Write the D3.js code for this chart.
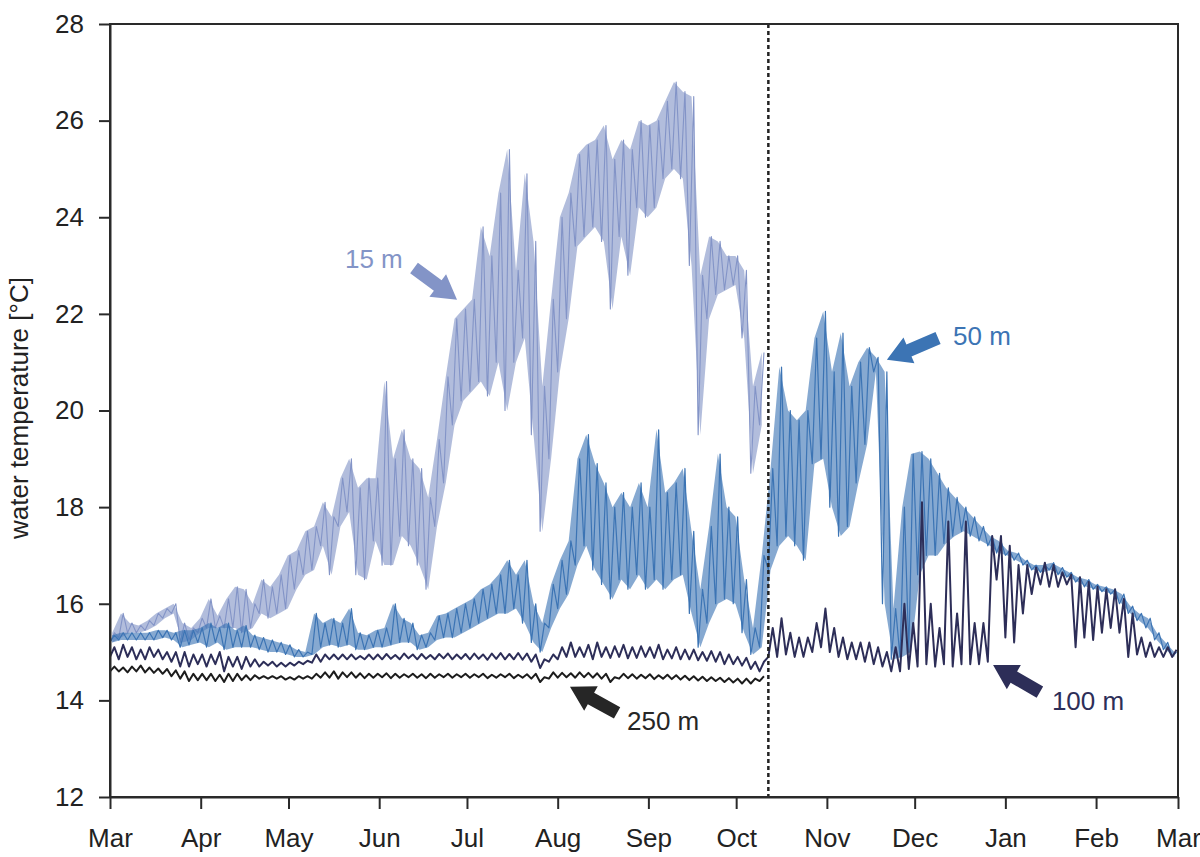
<!DOCTYPE html>
<html>
<head>
<meta charset="utf-8">
<script src="https://cdn.jsdelivr.net/npm/d3@7"></script>
<style>
    body { margin: 0; background: #fff; }
    svg { font-family: "Liberation Sans", Arial, sans-serif; }
</style>
</head>
<body>
<svg width="1200" height="857"></svg>
<script>
// Mooring temperature record, Mar -> Mar. Each series is read off the plot in
// 3 day bins as [lowest, highest] value inside the bin.
var startDate = Date.UTC(2010, 2, 1),
    endDate = Date.UTC(2011, 2, 1),
    binDays = 3,
    cutDate = Date.UTC(2010, 9, 12); // dashed line, 15 m and 250 m loggers stop here

var yTicks = [12, 14, 16, 18, 20, 22, 24, 26, 28];

var t15lo = [15.2, 15.3, 15.4, 15.4, 15.45, 15.55, 15.7, 15.8, 15.2, 15.25,
    15.4, 15.5, 15.5, 15.5, 15.5, 15.4, 15.5, 15.8, 15.7, 15.8,
    15.9, 16.3, 16.6, 16.7, 17.2, 16.6, 17.6, 17.9, 16.6, 16.5,
    17.3, 16.8, 16.8, 17.4, 17.2, 16.8, 16.3, 17.6, 18.5, 19.7,
    20.2, 20.4, 20.6, 20.3, 21.0, 20.0, 21.0, 21.5, 19.5, 17.5,
    19.0, 20.8, 21.9, 23.4, 23.6, 23.8, 23.5, 22.1, 23.6, 22.8,
    24.2, 24.0, 24.2, 24.8, 25.0, 24.8, 23.0, 19.5, 21.9, 22.4,
    22.5, 22.6, 21.5, 18.7, 19.7];
var t15hi = [15.4, 15.8, 15.6, 15.55, 15.65, 15.8, 15.9, 16.0, 15.6, 15.5,
    15.7, 16.1, 15.75, 16.1, 16.35, 16.3, 16.0, 16.5, 16.35, 16.6,
    17.0, 17.1, 17.5, 17.6, 18.1, 17.8, 18.6, 19.0, 18.4, 18.6,
    18.6, 20.6, 19.0, 19.6, 19.0, 18.8, 18.2, 19.4, 20.7, 21.9,
    22.1, 22.3, 23.8, 23.2, 24.5, 25.4, 22.9, 24.9, 23.5, 20.5,
    22.3, 24.0, 24.5, 25.3, 25.5, 25.6, 25.9, 25.2, 25.6, 25.4,
    26.0, 25.9, 26.0, 26.4, 26.8, 26.6, 26.5, 22.8, 23.6, 23.5,
    23.2, 23.2, 22.9, 20.5, 21.2];

var t50lo = [15.2, 15.25, 15.25, 15.25, 15.25, 15.25, 15.3, 15.25, 15.1, 15.15,
    15.2, 15.1, 15.2, 15.05, 15.1, 15.1, 15.1, 15.05, 15.0, 15.0,
    14.95, 14.9, 14.9, 14.95, 15.1, 15.15, 15.1, 15.15, 15.05, 15.05,
    15.1, 15.1, 15.15, 15.2, 15.2, 15.05, 15.1, 15.25, 15.3, 15.3,
    15.4, 15.5, 15.6, 15.7, 15.8, 15.8, 15.9, 15.6, 15.2, 15.0,
    15.5, 15.9, 16.2, 16.8, 17.2, 16.7, 16.4, 16.1, 16.5, 16.3,
    16.6, 16.3, 16.5, 16.3, 16.5, 16.6, 15.8, 15.1, 15.6, 16.0,
    16.1, 16.0, 15.4, 14.95, 15.1, 16.7, 17.2, 17.4, 17.2, 16.9,
    18.9, 19.0, 18.0, 17.4, 17.6, 18.5, 19.3, 20.8, 16.0, 14.85,
    14.9, 15.0, 16.6, 17.0, 17.0, 17.25, 17.4, 17.5, 17.4, 17.3,
    17.2, 17.05, 17.0, 16.9, 16.8, 16.7, 16.65, 16.7, 16.6, 16.55,
    16.45, 16.35, 16.3, 16.25, 16.2, 16.0, 15.8, 15.65, 15.5, 15.25,
    15.05, 14.9];
var t50hi = [15.35, 15.4, 15.4, 15.4, 15.4, 15.45, 15.45, 15.4, 15.45, 15.45,
    15.5, 15.6, 15.5, 15.6, 15.45, 15.55, 15.35, 15.3, 15.25, 15.2,
    15.15, 15.05, 15.0, 15.8, 15.6, 15.7, 15.6, 15.9, 15.4, 15.35,
    15.45, 15.5, 16.0, 15.7, 15.6, 15.35, 15.4, 15.75, 15.8, 15.9,
    16.0, 16.1, 16.3, 16.4, 16.6, 16.9, 16.6, 16.9, 16.0, 15.6,
    16.4, 16.9, 17.3, 19.0, 19.5, 18.9, 18.5, 18.0, 18.3, 18.0,
    18.5, 18.0, 19.6, 18.3, 18.5, 18.8, 17.5, 16.3, 17.6, 19.1,
    18.0, 17.8, 16.5, 15.5, 17.0, 18.8, 20.9, 20.0, 19.8, 20.0,
    21.5, 22.05, 20.8, 21.6, 20.5, 21.0, 21.3, 21.1, 20.8, 15.9,
    18.0, 19.1, 19.15, 19.0, 18.7, 18.4, 18.2, 18.0, 17.8, 17.6,
    17.4, 17.3, 17.1, 17.05, 16.9, 16.8, 16.8, 16.85, 16.75, 16.65,
    16.55, 16.5, 16.4, 16.35, 16.3, 16.2, 15.95, 15.8, 15.7, 15.4,
    15.2, 15.0];

var t100lo = [14.9, 14.85, 14.9, 14.85, 14.85, 14.9, 14.85, 14.8, 14.7, 14.7,
    14.75, 14.7, 14.75, 14.6, 14.7, 14.65, 14.7, 14.7, 14.72, 14.7,
    14.7, 14.72, 14.75, 14.78, 14.8, 14.85, 14.85, 14.85, 14.85, 14.85,
    14.85, 14.85, 14.86, 14.85, 14.87, 14.85, 14.86, 14.85, 14.87, 14.85,
    14.86, 14.85, 14.86, 14.84, 14.86, 14.85, 14.85, 14.84, 14.8, 14.67,
    14.8, 14.85, 14.9, 14.9, 14.9, 14.85, 14.9, 14.88, 14.9, 14.87,
    14.88, 14.9, 14.88, 14.85, 14.87, 14.85, 14.85, 14.83, 14.82, 14.8,
    14.75, 14.75, 14.72, 14.65, 14.6, 14.9, 14.9, 14.95, 14.9, 14.9,
    15.0, 15.1, 15.0, 14.9, 14.85, 14.85, 14.8, 14.75, 14.7, 14.6,
    14.6, 14.65, 14.7, 14.75, 14.7, 14.75, 14.7, 14.75, 14.75, 14.75,
    14.8, 16.5, 15.3, 15.2, 15.8, 16.2, 16.4, 16.35, 16.35, 16.4,
    15.1, 15.3, 15.25, 15.4, 15.5, 15.4, 14.9, 14.95, 14.9, 14.9,
    14.9, 14.9];
var t100hi = [15.1, 15.15, 15.1, 15.05, 15.1, 15.05, 15.0, 15.0, 15.0, 14.95,
    14.95, 14.95, 15.0, 14.9, 14.9, 14.9, 14.85, 14.8, 14.8, 14.78,
    14.78, 14.8, 14.82, 14.95, 14.95, 14.95, 14.95, 14.95, 14.92, 14.95,
    14.95, 14.96, 14.94, 14.97, 14.95, 14.96, 14.94, 14.96, 14.97, 14.95,
    14.96, 14.97, 14.95, 14.97, 14.98, 14.96, 14.98, 14.97, 14.95, 14.85,
    14.95, 15.1, 15.2, 15.1, 15.15, 15.2, 15.1, 15.12, 15.15, 15.1,
    15.12, 15.1, 15.15, 15.05, 15.1, 15.05, 15.05, 15.0, 15.02, 15.0,
    14.95, 14.9, 14.88, 14.8, 14.8, 15.5, 15.7, 15.4, 15.3, 15.3,
    15.6, 15.9, 15.5, 15.3, 15.2, 15.2, 15.2, 15.1, 15.0, 15.1,
    16.0, 15.6, 18.1, 16.0, 15.5, 17.7, 15.8, 17.7, 15.6, 15.6,
    17.4, 17.4, 17.2, 16.8, 16.8, 16.75, 16.85, 16.8, 16.65, 16.6,
    16.55, 16.45, 16.35, 16.3, 16.3, 16.1, 15.8, 15.3, 15.2, 15.1,
    15.1, 15.05];

var t250lo = [14.6, 14.6, 14.58, 14.6, 14.58, 14.57, 14.55, 14.5, 14.45, 14.4,
    14.42, 14.42, 14.4, 14.38, 14.4, 14.42, 14.42, 14.45, 14.45, 14.45,
    14.43, 14.43, 14.45, 14.45, 14.47, 14.47, 14.45, 14.48, 14.47, 14.46,
    14.47, 14.48, 14.46, 14.47, 14.48, 14.47, 14.46, 14.47, 14.48, 14.47,
    14.48, 14.47, 14.48, 14.46, 14.47, 14.48, 14.46, 14.47, 14.45, 14.38,
    14.45, 14.47, 14.48, 14.47, 14.48, 14.47, 14.45, 14.38, 14.45, 14.46,
    14.45, 14.46, 14.44, 14.45, 14.44, 14.43, 14.42, 14.41, 14.4, 14.4,
    14.38, 14.37, 14.35, 14.35, 14.4];
var t250hi = [14.7, 14.68, 14.7, 14.72, 14.68, 14.66, 14.65, 14.62, 14.6, 14.55,
    14.55, 14.55, 14.53, 14.55, 14.55, 14.52, 14.52, 14.5, 14.5, 14.5,
    14.48, 14.5, 14.5, 14.55, 14.58, 14.6, 14.58, 14.58, 14.56, 14.55,
    14.55, 14.56, 14.55, 14.54, 14.55, 14.54, 14.55, 14.54, 14.55, 14.54,
    14.55, 14.54, 14.55, 14.53, 14.54, 14.55, 14.53, 14.54, 14.55, 14.48,
    14.58, 14.57, 14.56, 14.58, 14.57, 14.56, 14.55, 14.48, 14.55, 14.54,
    14.53, 14.54, 14.52, 14.53, 14.52, 14.51, 14.5, 14.49, 14.48, 14.47,
    14.46, 14.45, 14.45, 14.45, 14.5];

// depth labels: arrow tip / tail and text anchor, in [day since Mar 1, degC]
var labelNames = ["15 m", "50 m", "100 m", "250 m"];
var labelColors = ["#8394c7", "#3c74b4", "#2d2e58", "#262626"];
var arrowTips = [[118.6, 22.29], [265.5, 21.05], [301.8, 14.73], [157.2, 14.28]];
var arrowTails = [[103.9, 22.95], [283.0, 21.50], [317.8, 14.17], [173.3, 13.74]];
var textAnchors = [[80.3, 22.95], [288.1, 21.36], [321.9, 13.80], [176.7, 13.39]];

var svg = d3.select("svg");

var x = d3.scaleUtc()
    .domain([startDate, endDate])
    .range([110, 1178]);
var y = d3.scaleLinear()
    .domain([12, 28])
    .range([797, 24]);

function dayToDate(d) {
    return new Date(startDate + d * 864e5);
}

function zigzag(lo, hi) {
    // low value at the start of each bin, high value half way through
    var pts = [];
    for (var i = 0; i < lo.length; i++) {
        pts.push([dayToDate(i * binDays), lo[i]]);
        pts.push([dayToDate(i * binDays + binDays / 2), hi[i]]);
    }
    return pts;
}

function band(lo, hi) {
    return lo.map(function(v, i) {
        return {date: dayToDate(i * binDays + binDays / 4), lo: v, hi: hi[i]};
    });
}

var line = d3.line()
    .x(function(d) { return x(d[0]); })
    .y(function(d) { return y(d[1]); });

var area = d3.area()
    .x(function(d) { return x(d.date); })
    .y0(function(d) { return y(d.lo); })
    .y1(function(d) { return y(d.hi); });

// op = shading of the spread between min and max (0 = trace only)
var series = [
    {lo: t15lo, hi: t15hi, color: labelColors[0], w: 1.1, op: 0.62},
    {lo: t50lo, hi: t50hi, color: labelColors[1], w: 1.2, op: 0.62},
    {lo: t100lo, hi: t100hi, color: labelColors[2], w: 2, op: 0},
    {lo: t250lo, hi: t250hi, color: "#1c1c1c", w: 2, op: 0}
];

var g = svg.append("g").selectAll("g")
    .data(series).enter()
    .append("g");

g.filter(function(d) { return d.op > 0; })
    .append("path")
    .attr("d", function(d) { return area(band(d.lo, d.hi)); })
    .attr("fill", function(d) { return d.color; })
    .attr("fill-opacity", function(d) { return d.op; });

g.append("path")
    .attr("d", function(d) { return line(zigzag(d.lo, d.hi)); })
    .attr("fill", "none")
    .attr("stroke", function(d) { return d.color; })
    .attr("stroke-width", function(d) { return d.w; })
    .attr("stroke-linejoin", "round");

// dashed marker
svg.append("line")
    .attr("x1", x(cutDate)).attr("x2", x(cutDate))
    .attr("y1", y(28)).attr("y2", y(12))
    .attr("stroke", "#222")
    .attr("stroke-width", 2.5)
    .attr("stroke-dasharray", "4,3");

// frame
svg.append("rect")
    .attr("x", x.range()[0]).attr("y", y(28))
    .attr("width", x.range()[1] - x.range()[0])
    .attr("height", y(12) - y(28))
    .attr("fill", "none")
    .attr("stroke", "#2a2a2a")
    .attr("stroke-width", 2);

var yAxis = svg.append("g")
    .attr("transform", "translate(" + x.range()[0] + ",0)")
    .call(d3.axisLeft(y).tickValues(yTicks).tickSize(11).tickSizeOuter(0).tickPadding(15));

var xAxis = svg.append("g")
    .attr("transform", "translate(0," + y(12) + ")")
    .call(d3.axisBottom(x)
        .ticks(d3.utcMonth.every(1))
        .tickFormat(d3.utcFormat("%b"))
        .tickSize(12).tickSizeOuter(0).tickPadding(20));

[yAxis, xAxis].forEach(function(g) {
    g.select(".domain").attr("stroke", "#2a2a2a").attr("stroke-width", 2);
    g.selectAll(".tick line").attr("stroke", "#2a2a2a").attr("stroke-width", 2);
    g.selectAll("text")
        .attr("fill", "#222")
        .style("font-size", "26px")
        .style("font-family", "Liberation Sans, Arial, sans-serif");
});

svg.append("text")
    .attr("transform", "translate(28,408) rotate(-90)")
    .attr("text-anchor", "middle")
    .attr("fill", "#222")
    .style("font-size", "26px")
    .text("water temperature [°C]");

// block arrows pointing at each depth
function arrowPoints(tail, tip) {
    var x0 = x(dayToDate(tail[0])), y0 = y(tail[1]),
        x1 = x(dayToDate(tip[0])), y1 = y(tip[1]);
    var len = Math.sqrt((x1 - x0) ** 2 + (y1 - y0) ** 2),
        ux = (x1 - x0) / len, uy = (y1 - y0) / len,
        nx = -uy, ny = ux;
    var sw = 6.5, hw = 14, hl = 24;
    var local = [[0, 0], [-hl, hw], [-hl, sw], [-len, sw], [-len, -sw], [-hl, -sw], [-hl, -hw]];
    return local.map(function(p) {
        return [x1 + p[0] * ux + p[1] * nx, y1 + p[0] * uy + p[1] * ny].join(",");
    }).join(" ");
}

labelNames.forEach(function(name, i) {
    svg.append("polygon")
        .attr("points", arrowPoints(arrowTails[i], arrowTips[i]))
        .attr("fill", labelColors[i]);
    svg.append("text")
        .attr("x", x(dayToDate(textAnchors[i][0])))
        .attr("y", y(textAnchors[i][1]))
        .attr("fill", labelColors[i])
        .style("font-size", "26px")
        .text(name);
});
</script>
</body>
</html>
